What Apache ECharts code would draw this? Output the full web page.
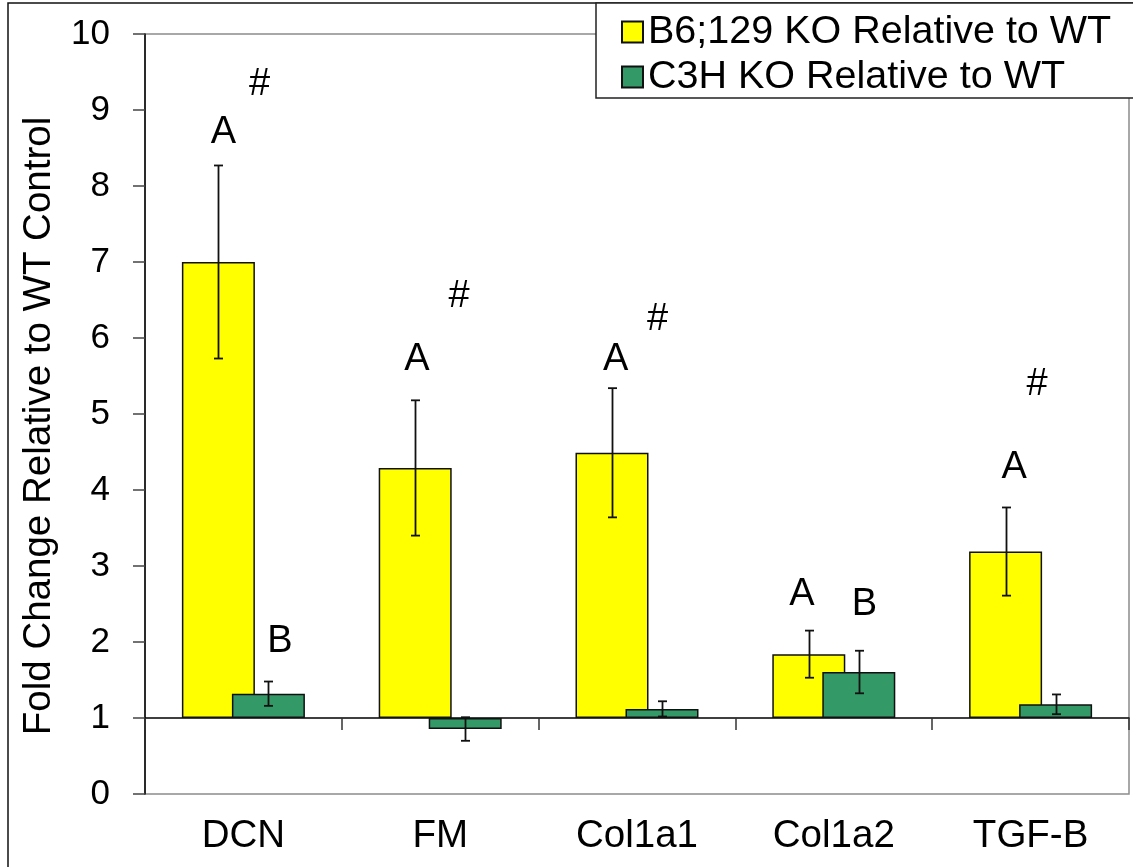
<!DOCTYPE html>
<html>
<head>
<meta charset="utf-8">
<script src="https://cdn.jsdelivr.net/npm/echarts@6/dist/echarts.min.js"></script>
<style>
html,body{margin:0;padding:0;background:#fff;}
#chart{width:1133px;height:867px;}
</style>
</head>
<body>
<div id="chart"></div>
<script>
// ---- data ----
const categories = ['DCN', 'FM', 'Col1a1', 'Col1a2', 'TGF-B'];
const seriesNames = ['B6;129 KO Relative to WT', 'C3H KO Relative to WT'];
const b6Values = [7.0, 4.29, 4.49, 1.84, 3.19];
const b6Errors = [1.27, 0.89, 0.85, 0.31, 0.58];
const c3hValues = [1.32, 0.855, 1.12, 1.605, 1.18];
const c3hErrors = [0.16, 0.155, 0.10, 0.28, 0.13];
const yTicks = [0, 1, 2, 3, 4, 5, 6, 7, 8, 9, 10];
const baseline = 1; // category axis crosses the value axis at 1
// significance annotations: text, x in category units (0..5), y in data units
const annotationText = ['A', '#', 'B', 'A', '#', 'A', '#', 'A', 'B', 'A', '#'];
const annotationX = [0.399, 0.582, 0.686, 1.382, 1.596, 2.391, 2.604, 3.338, 3.656, 4.416, 4.533];
const annotationY = [8.70, 9.33, 2.01, 5.72, 6.55, 5.72, 6.24, 2.62, 2.49, 4.30, 5.39];

// ---- chart ----
const FONT = '"Liberation Sans", Arial, sans-serif';
const BAR_W = 73;
const GAP_PX = -23;
const offsets = [-(BAR_W + GAP_PX) / 2, (BAR_W + GAP_PX) / 2];

function shift(v) { return +(v - baseline).toFixed(4); }

function errorSeries(values, errors, offset, name) {
  return {
    type: 'custom',
    name: name + ' err',
    xAxisIndex: 0, yAxisIndex: 0,
    z: 10,
    silent: true,
    data: values.map((v, i) => [i, shift(v - errors[i]), shift(v + errors[i])]),
    renderItem: function (params, api) {
      const i = api.value(0);
      const lo = api.coord([i, api.value(1)]);
      const hi = api.coord([i, api.value(2)]);
      const x = Math.round(lo[0] + offset) + 0.5;
      const cap = 4.5;
      const st = { stroke: '#111', lineWidth: 1.8 };
      return {
        type: 'group',
        children: [
          { type: 'line', shape: { x1: x, y1: lo[1], x2: x, y2: hi[1] }, style: st },
          { type: 'line', shape: { x1: x - cap, y1: lo[1], x2: x + cap, y2: lo[1] }, style: st },
          { type: 'line', shape: { x1: x - cap, y1: hi[1], x2: x + cap, y2: hi[1] }, style: st }
        ]
      };
    }
  };
}

const chart = echarts.init(document.getElementById('chart'), null, { renderer: 'canvas' });
chart.setOption({
  animation: false,
  backgroundColor: '#fff',
  textStyle: { fontFamily: FONT },
  graphic: [{
    type: 'rect', silent: true, z: -1,
    shape: { x: 8, y: 3, width: 1300, height: 1000 },
    style: { fill: 'none', stroke: '#111', lineWidth: 1.5 }
  }],
  grid: {
    left: 145, right: 4, top: 34, bottom: 73,
    show: true, borderColor: '#8c8c8c', borderWidth: 1.5, backgroundColor: 'transparent'
  },
  legend: {
    orient: 'vertical',
    left: 596, top: 3,
    padding: [8, 80, 0, 25],
    itemGap: 3,
    itemWidth: 21, itemHeight: 21,
    icon: 'rect',
    selectedMode: false,
    borderColor: '#222', borderWidth: 1.5,
    backgroundColor: '#fff',
    textStyle: { fontSize: 39.5, color: '#000', fontFamily: FONT, lineHeight: 42 },
    data: seriesNames
  },
  xAxis: [
    {
      type: 'category', data: categories, gridIndex: 0, position: 'bottom',
      axisLine: { show: true, onZero: true, lineStyle: { color: '#000', width: 1.5 } },
      axisTick: { show: true, length: 12, interval: 0, alignWithLabel: false, lineStyle: { color: '#333', width: 1.5 } },
      axisLabel: { show: false },
      splitLine: { show: false }
    },
    {
      type: 'category', data: categories, gridIndex: 0, position: 'bottom',
      axisLine: { show: false, onZero: false },
      axisTick: { show: false },
      axisLabel: { show: true, interval: 0, fontSize: 38.5, color: '#000', fontFamily: FONT, margin: 23 },
      splitLine: { show: false }
    },
    {
      type: 'value', gridIndex: 0, min: 0, max: categories.length, show: false
    }
  ],
  yAxis: [{
    type: 'value',
    min: shift(yTicks[0]), max: shift(yTicks[yTicks.length - 1]), interval: 1,
    name: 'Fold Change Relative to WT Control',
    nameLocation: 'middle', nameGap: 86,
    nameTextStyle: { fontSize: 38.5, color: '#000', fontFamily: FONT, padding: [0, 24, 0, 0] },
    axisLine: { show: true, lineStyle: { color: '#000', width: 1.5 } },
    axisTick: { show: true, length: 12, lineStyle: { color: '#444', width: 1.5 } },
    axisLabel: {
      fontSize: 35, color: '#000', fontFamily: FONT, margin: 35,
      formatter: v => String(Math.round(v + baseline))
    },
    splitLine: { show: false }
  }],
  series: [
    {
      type: 'bar', name: seriesNames[0], xAxisIndex: 0, yAxisIndex: 0,
      barWidth: BAR_W, barGap: (GAP_PX / BAR_W * 100).toFixed(1) + '%',
      itemStyle: { color: '#ffff00', borderColor: '#111', borderWidth: 1.5 },
      data: b6Values.map(shift)
    },
    {
      type: 'bar', name: seriesNames[1], xAxisIndex: 0, yAxisIndex: 0,
      barWidth: BAR_W,
      itemStyle: { color: '#339966', borderColor: '#111', borderWidth: 1.5 },
      data: c3hValues.map(shift)
    },
    errorSeries(b6Values, b6Errors, offsets[0], seriesNames[0]),
    errorSeries(c3hValues, c3hErrors, offsets[1], seriesNames[1]),
    {
      type: 'custom', name: 'annotations', xAxisIndex: 2, yAxisIndex: 0,
      silent: true, z: 12,
      data: annotationText.map((t, i) => [annotationX[i], shift(annotationY[i]), i]),
      renderItem: function (params, api) {
        const p = api.coord([api.value(0), api.value(1)]);
        return {
          type: 'text',
          style: {
            text: annotationText[api.value(2)],
            x: p[0], y: p[1],
            fill: '#000',
            font: '38px ' + FONT,
            textAlign: 'center', textVerticalAlign: 'middle'
          }
        };
      }
    }
  ]
});
</script>
</body>
</html>
